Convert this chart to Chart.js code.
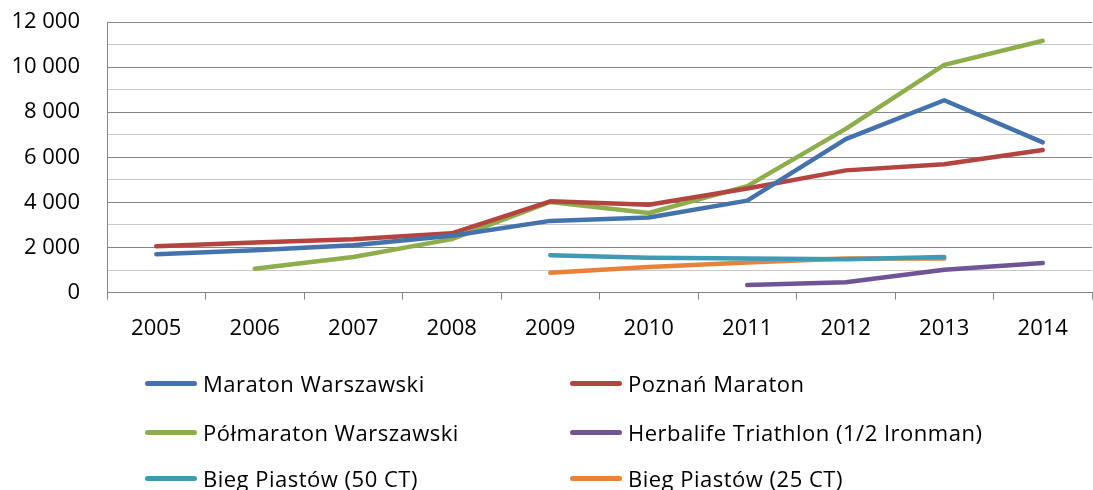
<!DOCTYPE html>
<html>
<head>
<meta charset="utf-8">
<script src="https://cdn.jsdelivr.net/npm/chart.js@4/dist/chart.umd.min.js"></script>
<style>
  body { margin: 0; background: #fff; }
  #wrap { position: relative; width: 1093px; height: 490px; }
  #chart { position: absolute; left: 0; top: 0; }
  #legend { position: absolute; left: 0; top: 0; width: 1093px; height: 490px; font-family: "Open Sans", sans-serif; font-size: 22px; letter-spacing: 0.5px; color: #000; }
  .item { position: absolute; display: flex; align-items: center; height: 30px; white-space: nowrap; }
  .swatch { width: 52px; height: 5px; border-radius: 3px; margin-right: 6px; }
</style>
</head>
<body>
<div id="wrap">
  <canvas id="chart" width="1093" height="358"></canvas>
  <div id="legend"></div>
</div>
<script>
const years = ['2005', '2006', '2007', '2008', '2009', '2010', '2011', '2012', '2013', '2014'];

const maratonWarszawski = [1700, 1880, 2100, 2520, 3180, 3330, 4080, 6810, 8530, 6660];
const poznanMaraton = [2060, 2220, 2370, 2630, 4050, 3900, 4620, 5420, 5690, 6320];
const polmaratonWarszawski = [null, 1060, 1580, 2370, 4020, 3530, 4720, 7260, 10100, 11170];
const herbalifeTriathlon = [null, null, null, null, null, null, 340, 460, 1010, 1310];
const biegPiastow50 = [null, null, null, null, 1660, 1550, 1510, 1480, 1580, null];
const biegPiastow25 = [null, null, null, null, 880, 1130, 1330, 1510, 1510, null];

const seriesNames = ['Maraton Warszawski', 'Poznań Maraton', 'Półmaraton Warszawski',
  'Herbalife Triathlon (1/2 Ironman)', 'Bieg Piastów (50 CT)', 'Bieg Piastów (25 CT)'];
const seriesData = [maratonWarszawski, poznanMaraton, polmaratonWarszawski,
  herbalifeTriathlon, biegPiastow50, biegPiastow25];
const seriesColors = ['#4472ad', '#b4443f', '#8dae4b', '#6f5496', '#3f9bb4', '#e8823a'];

const font = { family: '"Open Sans", sans-serif', size: 22 };
const axisGray = '#868686';

let fmt = (v) => String(v).replace(/\B(?=(\d{3})+(?!\d))/g, ' ');

const ctx = document.getElementById('chart').getContext('2d');
const chart = new Chart(ctx, {
  type: 'line',
  data: {
    labels: years,
    datasets: seriesNames.map((name, i) => ({
      label: name,
      data: seriesData[i],
      borderColor: seriesColors[i],
      backgroundColor: seriesColors[i],
      borderWidth: 4.5,
      borderCapStyle: 'round',
      borderJoinStyle: 'round',
      pointRadius: 0,
      tension: 0,
      spanGaps: false
    }))
  },
  options: {
    responsive: false,
    animation: false,
    layout: { padding: { top: 22, right: 1, left: 0, bottom: 0 } },
    plugins: {
      legend: { display: false },
      tooltip: { enabled: false }
    },
    scales: {
      x: {
        offset: true,
        grid: { offset: true, drawOnChartArea: false, drawTicks: true, tickLength: 7, color: axisGray },
        border: { color: axisGray },
        ticks: { font: font, color: '#000', padding: 16, maxRotation: 0 }
      },
      y: {
        min: 0,
        max: 12000,
        afterFit: (scale) => {
          scale.width = 107;
          scale.paddingTop = 0;
          scale.paddingBottom = 0;
        },
        grid: {
          drawTicks: false,
          color: (c) => (c.tick && c.tick.value % 2000 === 0) ? axisGray : '#c8c8c8'
        },
        border: { color: axisGray },
        ticks: {
          stepSize: 1000,
          maxTicksLimit: 20,
          autoSkip: false,
          font: font,
          color: '#000',
          padding: 27,
          callback: (v) => v % 2000 === 0 ? fmt(v) : ''
        }
      }
    }
  }
});

// legend in two columns, three rows
const legend = document.getElementById('legend');
const colX = [145, 570];
const rowY = [383, 432, 478];
chart.data.datasets.forEach((ds, i) => {
  const item = document.createElement('div');
  item.className = 'item';
  item.style.left = colX[i % 2] + 'px';
  item.style.top = (rowY[Math.floor(i / 2)] - 15) + 'px';
  const sw = document.createElement('span');
  sw.className = 'swatch';
  sw.style.background = ds.borderColor;
  const tx = document.createElement('span');
  tx.textContent = ds.label;
  item.appendChild(sw);
  item.appendChild(tx);
  legend.appendChild(item);
});
</script>
</body>
</html>
